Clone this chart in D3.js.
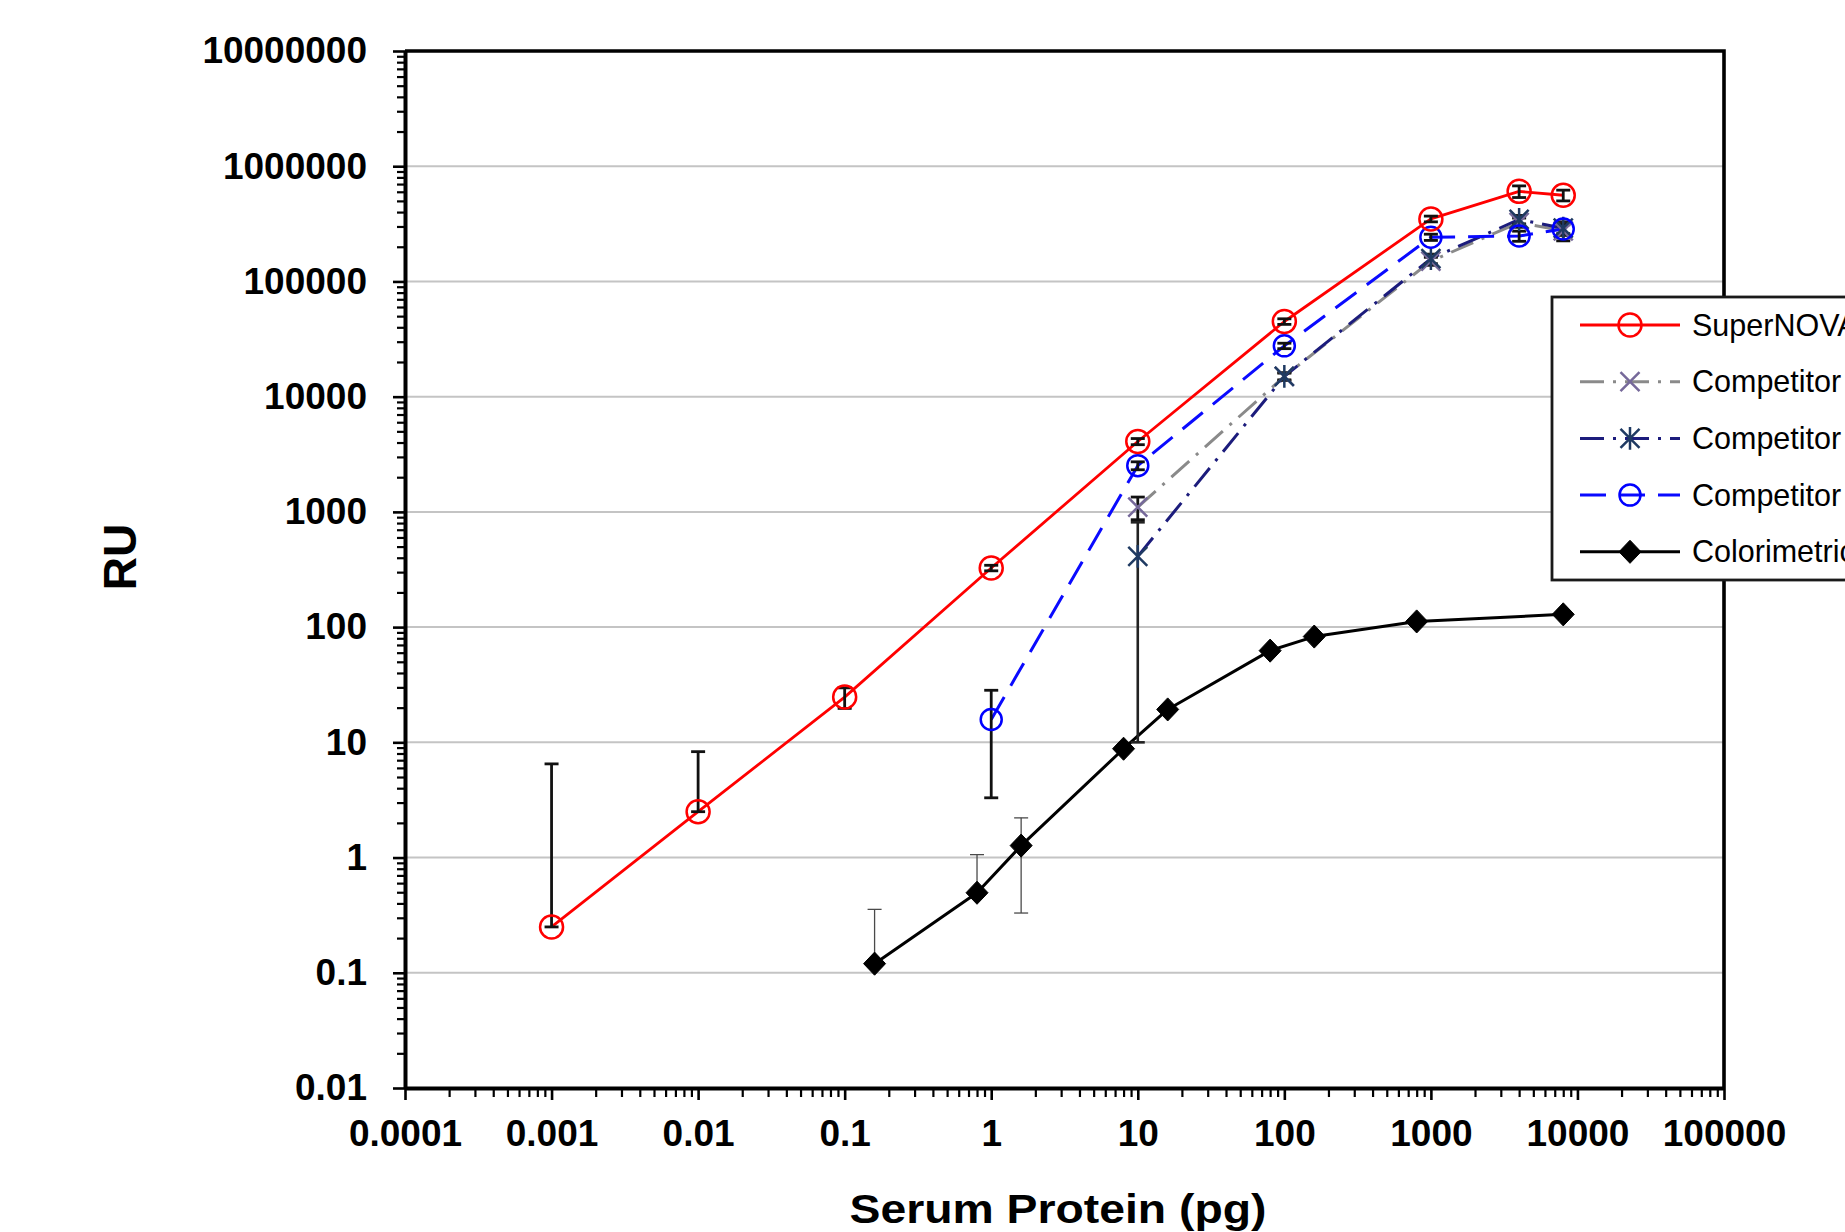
<!DOCTYPE html>
<html>
<head>
<meta charset="utf-8">
<script src="https://cdn.jsdelivr.net/npm/d3@7"></script>
<style>
  body { margin: 0; background: #fff; overflow: hidden; }
  svg { display: block; }
</style>
</head>
<body>
<svg id="chart" width="1845" height="1232"></svg>
<script>
// Serum protein amount (pg) and signal (RU) per assay, with +/- error
const superNovaX   = [0.001, 0.01, 0.1, 1, 10, 100, 1000, 4000, 8000];
const superNovaRU  = [0.25, 2.5, 24.7, 326, 4080, 44900, 349000, 605000, 560000];
const superNovaErr = [6.25, 5.8, 5, 18, 250, 2500, 20000, 70000, 60000];

const compAX   = [10, 100, 1000, 4000, 8000];
const compARU  = [1100, 15000, 150000, 325000, 275000];
const compAErr = [245, 1000, 12000, 30000, 50000];

const compBX   = [10, 100, 1000, 4000, 8000];
const compBRU  = [411, 15000, 158000, 345000, 290000];
const compBErr = [401, 1200, 15000, 30000, 40000];

const compCX   = [1, 10, 100, 1000, 4000, 8000];
const compCRU  = [15.8, 2520, 27600, 242000, 248000, 285000];
const compCErr = [12.5, 200, 1500, 15000, 25000, 25000];

const colorimetricX   = [0.16, 0.8, 1.6, 8, 16, 80, 160, 800, 8000];
const colorimetricRU  = [0.12, 0.495, 1.27, 8.8, 19.3, 62.5, 82.8, 112, 129];
const colorimetricErr = [0.235, 0.565, 0.94, 0.5, 1, 3, 4, 5, 6];

const seriesNames = ["SuperNOVA", "Competitor A", "Competitor B", "Competitor C", "Colorimetric"];

const xTickValues = [1e-4, 1e-3, 1e-2, 1e-1, 1, 10, 100, 1e3, 1e4, 1e5];
const xTickLabels = ["0.0001", "0.001", "0.01", "0.1", "1", "10", "100", "1000", "10000", "100000"];
const yTickValues = [1e-2, 1e-1, 1, 10, 100, 1e3, 1e4, 1e5, 1e6, 1e7];
const yTickLabels = ["0.01", "0.1", "1", "10", "100", "1000", "10000", "100000", "1000000", "10000000"];

const xTitle = "Serum Protein (pg)";
const yTitle = "RU";

// ---- layout ----
const plot = { left: 405, right: 1724, top: 51, bottom: 1088 };
const FONT = "'Liberation Sans', Arial, Helvetica, sans-serif";

const svg = d3.select("#chart");
svg.append("rect").attr("width", 1845).attr("height", 1232).attr("fill", "#fff");

const x = d3.scaleLog().domain([1e-4, 1e5]).range([plot.left, plot.right]);
const y = d3.scaleLog().domain([1e-2, 1e7]).range([plot.bottom, plot.top]);

// series table built from the arrays above
const zip = (xs, ys, es) => xs.map((v, i) => ({ x: v, y: ys[i], e: es[i] }));
const series = [
  { name: seriesNames[4], data: zip(colorimetricX, colorimetricRU, colorimetricErr),
    stroke: "#000", width: 3, dash: null, marker: "diamond", mColor: "#000",
    errColor: "#4a4a4a", errWidth: 1.3 },
  { name: seriesNames[1], data: zip(compAX, compARU, compAErr),
    stroke: "#8a8a8a", width: 3, dash: "24,9,3,9", marker: "x", mColor: "#76699a",
    errColor: "#111", errWidth: 2.8 },
  { name: seriesNames[2], data: zip(compBX, compBRU, compBErr),
    stroke: "#1c1c7c", width: 3, dash: "24,9,3,9", marker: "asterisk", mColor: "#1f3a62",
    errColor: "#222", errWidth: 2.6 },
  { name: seriesNames[3], data: zip(compCX, compCRU, compCErr),
    stroke: "#0a0aff", width: 3, dash: "26,13", marker: "circle", r: 10.5, mColor: "#0000ff",
    errColor: "#111", errWidth: 2.8 },
  { name: seriesNames[0], data: zip(superNovaX, superNovaRU, superNovaErr),
    stroke: "#ff0000", width: 2.8, dash: null, marker: "circle", r: 11.5, mColor: "#ff0000",
    errColor: "#111", errWidth: 2.8 }
];

// ---- gridlines ----
svg.append("g")
  .selectAll("line")
  .data(yTickValues.filter(v => v > 1e-2 && v < 1e7))
  .join("line")
  .attr("x1", plot.left).attr("x2", plot.right)
  .attr("y1", d => y(d)).attr("y2", d => y(d))
  .attr("stroke", "#c4c4c4").attr("stroke-width", 2);

// ---- minor ticks ----
const minorOf = (lo, hi) => {
  const out = [];
  for (let p = lo; p < hi; p++) for (let m = 2; m <= 9; m++) out.push(m * Math.pow(10, p));
  return out;
};

const yMinorAxis = d3.axisLeft(y).tickValues(minorOf(-2, 7)).tickFormat("").tickSize(8).tickSizeOuter(0);
const yMinor = svg.append("g").attr("transform", `translate(${plot.left},0)`).call(yMinorAxis);
yMinor.select(".domain").remove();
yMinor.selectAll("line").attr("stroke", "#000").attr("stroke-width", 2.2);

const xMinorAxis = d3.axisBottom(x).tickValues(minorOf(-4, 5)).tickFormat("").tickSize(9).tickSizeOuter(0);
const xMinor = svg.append("g").attr("transform", `translate(0,${plot.bottom})`).call(xMinorAxis);
xMinor.select(".domain").remove();
xMinor.selectAll("line").attr("stroke", "#000").attr("stroke-width", 2.2);

// ---- major axes ----
const yAxis = d3.axisLeft(y).tickValues(yTickValues)
  .tickFormat((d, i) => yTickLabels[i]).tickSize(12).tickSizeOuter(0).tickPadding(26);
const gy = svg.append("g").attr("transform", `translate(${plot.left},0)`).call(yAxis);
gy.select(".domain").attr("stroke", "#000").attr("stroke-width", 4);
gy.selectAll(".tick line").attr("stroke", "#000").attr("stroke-width", 2.6);
gy.selectAll(".tick text").attr("fill", "#000")
  .style("font-family", FONT).style("font-size", "37px").style("font-weight", "bold");

const xAxis = d3.axisBottom(x).tickValues(xTickValues)
  .tickFormat((d, i) => xTickLabels[i]).tickSize(12).tickSizeOuter(0).tickPadding(20);
const gx = svg.append("g").attr("transform", `translate(0,${plot.bottom})`).call(xAxis);
gx.select(".domain").attr("stroke", "#000").attr("stroke-width", 4);
gx.selectAll(".tick line").attr("stroke", "#000").attr("stroke-width", 2.6);
gx.selectAll(".tick text").attr("fill", "#000")
  .style("font-family", FONT).style("font-size", "37px").style("font-weight", "bold");

// frame: top and right edges of the plot area
svg.append("path")
  .attr("d", `M${plot.left},${plot.top}H${plot.right}V${plot.bottom}`)
  .attr("fill", "none").attr("stroke", "#000").attr("stroke-width", 3.6);

// ---- axis titles ----
svg.append("text")
  .attr("x", 1058).attr("y", 1223)
  .attr("text-anchor", "middle")
  .attr("textLength", 417).attr("lengthAdjust", "spacingAndGlyphs")
  .style("font-family", FONT).style("font-size", "40px").style("font-weight", "bold")
  .text(xTitle);

svg.append("text")
  .attr("transform", "translate(136,557) rotate(-90)")
  .attr("text-anchor", "middle")
  .style("font-family", FONT).style("font-size", "46px").style("font-weight", "bold")
  .text(yTitle);

// ---- markers ----
function markerPath(type, r) {
  switch (type) {
    case "circle":
      return `M${-r},0a${r},${r} 0 1,0 ${2 * r},0a${r},${r} 0 1,0 ${-2 * r},0`;
    case "x":
      return `M${-r},${-r}L${r},${r}M${-r},${r}L${r},${-r}`;
    case "asterisk":
      return `M${-r},${-r}L${r},${r}M${-r},${r}L${r},${-r}M0,${-r * 1.2}L0,${r * 1.2}`;
    case "diamond":
      return `M0,${-r * 1.05}L${r},0L0,${r * 1.05}L${-r},0Z`;
  }
}
function drawMarker(g, s, cx, cy) {
  const type = s.marker;
  const r = type === "circle" ? s.r : type === "diamond" ? 11 : 9.5;
  g.append("path")
    .attr("transform", `translate(${cx},${cy})`)
    .attr("d", markerPath(type, r))
    .attr("fill", type === "diamond" ? s.mColor : "none")
    .attr("stroke", s.mColor)
    .attr("stroke-width", type === "diamond" ? 1 : 2.5);
}

// ---- series lines ----
const line = d3.line().x(d => x(d.x)).y(d => y(d.y));
const gLines = svg.append("g");
series.forEach(s => {
  gLines.append("path")
    .datum(s.data)
    .attr("d", line)
    .attr("fill", "none")
    .attr("stroke", s.stroke)
    .attr("stroke-width", s.width)
    .attr("stroke-dasharray", s.dash)
    .attr("stroke-linejoin", "round");
});

// ---- error bars (lower end omitted when it falls at or below zero) ----
const gErr = svg.append("g");
const CAP = 7;
series.forEach(s => {
  s.data.forEach(d => {
    if (!d.e) return;
    const hi = d.y + d.e;
    const lo = d.y - d.e > 0 ? d.y - d.e : d.y;
    const cx = x(d.x);
    const g = gErr.append("g").attr("stroke", s.errColor).attr("stroke-width", s.errWidth);
    g.append("line").attr("x1", cx).attr("x2", cx).attr("y1", y(hi)).attr("y2", y(lo));
    g.append("line").attr("x1", cx - CAP).attr("x2", cx + CAP).attr("y1", y(hi)).attr("y2", y(hi));
    g.append("line").attr("x1", cx - CAP).attr("x2", cx + CAP).attr("y1", y(lo)).attr("y2", y(lo));
  });
});

// ---- series markers ----
const gMarks = svg.append("g");
series.forEach(s => s.data.forEach(d => drawMarker(gMarks, s, x(d.x), y(d.y))));

// ---- legend (runs past the right edge of the page) ----
const legend = svg.append("g");
legend.append("rect")
  .attr("x", 1552).attr("y", 297).attr("width", 420).attr("height", 283)
  .attr("fill", "#fff").attr("stroke", "#1a1a1a").attr("stroke-width", 2.8);

const legendOrder = [4, 1, 2, 3, 0];   // SuperNOVA, A, B, C, Colorimetric
legendOrder.forEach((si, i) => {
  const s = series[si];
  const ly = 325 + i * 56.7;
  legend.append("line")
    .attr("x1", 1580).attr("x2", 1680).attr("y1", ly).attr("y2", ly)
    .attr("stroke", s.stroke).attr("stroke-width", s.width)
    .attr("stroke-dasharray", s.dash);
  drawMarker(legend, s, 1630, ly);
  legend.append("text")
    .attr("x", 1692).attr("y", ly).attr("dy", "0.35em")
    .style("font-family", FONT).style("font-size", "30.5px")
    .attr("fill", "#000")
    .text(s.name);
});
</script>
</body>
</html>
